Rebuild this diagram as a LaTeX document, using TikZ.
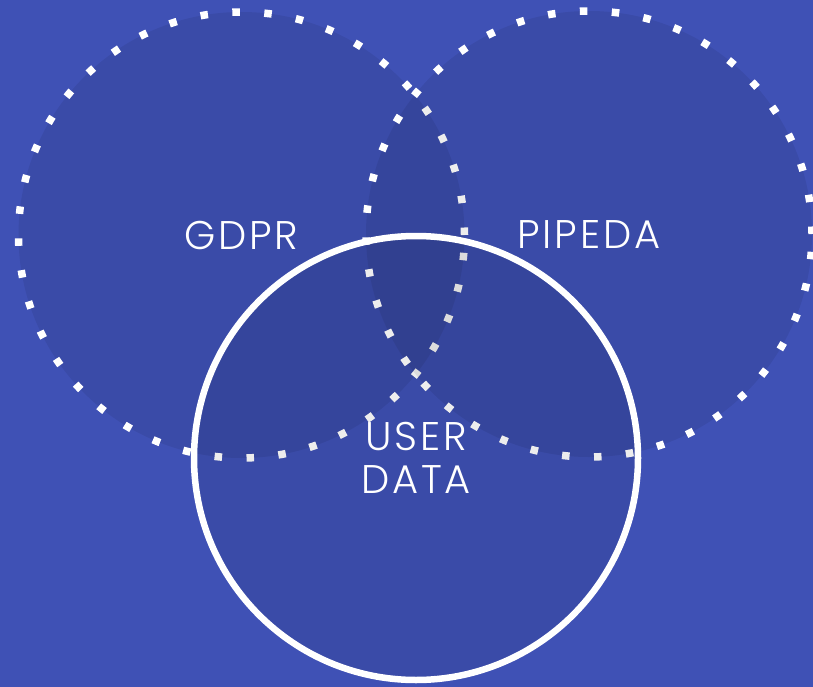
\documentclass[tikz,border=0pt]{standalone}
\usepackage{fontspec}
\setmainfont{Poppins}[UprightFont=* Light,LetterSpace=7]
\definecolor{bgblue}{RGB}{63,81,181}

\begin{document}
\begin{tikzpicture}[x=1pt,y=-1pt,
  every node/.style={text=white,font=\fontsize{40}{43}\selectfont},
  zone/.style={circle,inner sep=0pt,outer sep=0pt,fill=black,fill opacity=0.07,text opacity=1},
  law/.style={zone,minimum size=446pt,draw=white,line width=7.5pt,dash pattern=on 7.5pt off 24.5pt},
  data/.style={zone,minimum size=444pt,draw=white,line width=6.5pt,align=center}]
  \useasboundingbox (0,0) rectangle (813,687);
  \fill[bgblue] (0,0) rectangle (813,687);
  \node[law] (gdpr) at (241.5,235) {GDPR};
  \node[law] (pipeda) at (589,234) {PIPEDA};
  \node[data] (user) at (416,458) {USER\\DATA};
\end{tikzpicture}
\end{document}
